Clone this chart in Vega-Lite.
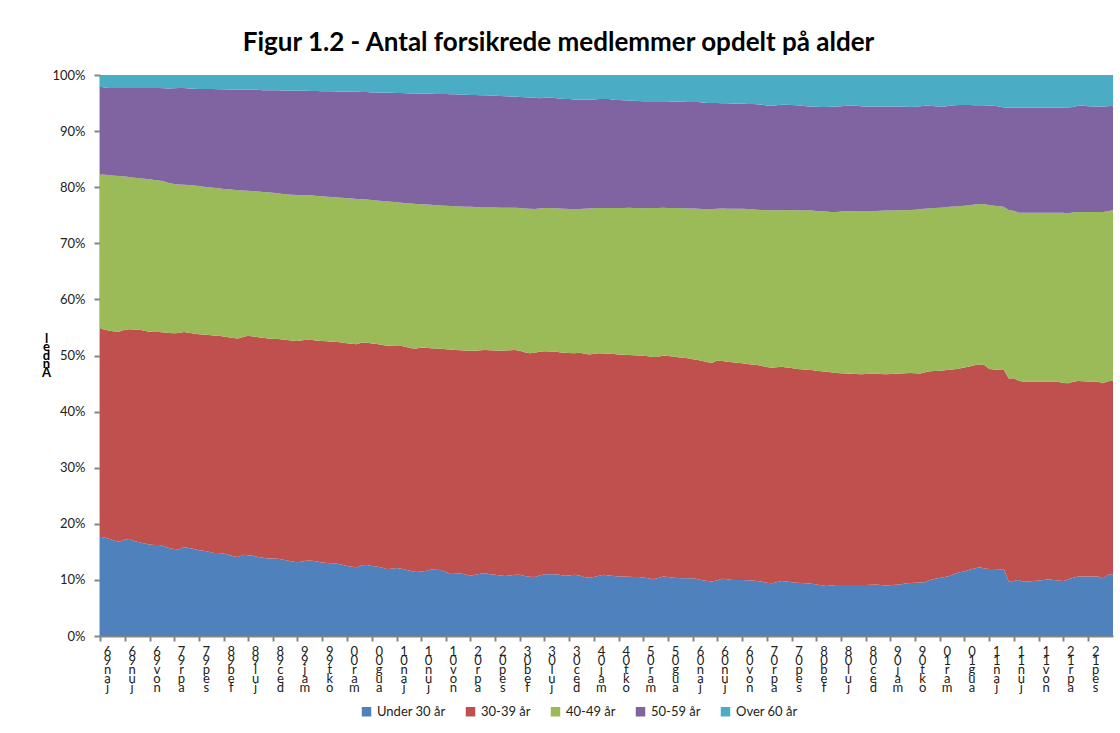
{
  "$schema": "https://vega.github.io/schema/vega-lite/v6.json",
  "width": 1013,
  "height": 561,
  "autosize": {"type": "none"},
  "padding": {"left": 100, "top": 75, "right": 7, "bottom": 97},
  "background": "white",
  "config": {"view": {"stroke": null}, "font": "Lato"},
  "title": {
    "text": "Figur 1.2 - Antal forsikrede medlemmer opdelt på alder",
    "font": "Lato", "fontSize": 26, "fontWeight": "bold", "color": "#000000",
    "anchor": "middle", "dx": -48, "offset": 13
  },
  "data": {"values": [
    {"d":"1996-01","u30":17.7,"a30":37.1,"a40":27.5,"a50":15.6,"o60":2.1},
    {"d":"1996-02","u30":17.5,"a30":37.1,"a40":27.6,"a50":15.55,"o60":2.25},
    {"d":"1996-03","u30":17.3,"a30":37.1,"a40":27.75,"a50":15.55,"o60":2.3},
    {"d":"1996-04","u30":17.0,"a30":37.3,"a40":27.75,"a50":15.65,"o60":2.3},
    {"d":"1996-05","u30":16.8,"a30":37.5,"a40":27.7,"a50":15.7,"o60":2.3},
    {"d":"1996-06","u30":17.2,"a30":37.4,"a40":27.3,"a50":15.8,"o60":2.3},
    {"d":"1996-07","u30":17.3,"a30":37.4,"a40":27.1,"a50":15.9,"o60":2.3},
    {"d":"1996-08","u30":16.9,"a30":37.75,"a40":27.05,"a50":16.0,"o60":2.3},
    {"d":"1996-09","u30":16.7,"a30":37.9,"a40":27.0,"a50":16.1,"o60":2.3},
    {"d":"1996-10","u30":16.5,"a30":37.9,"a40":27.1,"a50":16.2,"o60":2.3},
    {"d":"1996-11","u30":16.3,"a30":37.95,"a40":27.15,"a50":16.3,"o60":2.3},
    {"d":"1996-12","u30":16.2,"a30":38.0,"a40":27.1,"a50":16.4,"o60":2.3},
    {"d":"1997-01","u30":16.2,"a30":38.0,"a40":27.0,"a50":16.5,"o60":2.3},
    {"d":"1997-02","u30":16.0,"a30":38.1,"a40":26.9,"a50":16.65,"o60":2.35},
    {"d":"1997-03","u30":15.7,"a30":38.3,"a40":26.75,"a50":16.85,"o60":2.4},
    {"d":"1997-04","u30":15.5,"a30":38.45,"a40":26.6,"a50":17.1,"o60":2.35},
    {"d":"1997-05","u30":15.4,"a30":38.6,"a40":26.5,"a50":17.2,"o60":2.3},
    {"d":"1997-06","u30":15.8,"a30":38.4,"a40":26.25,"a50":17.25,"o60":2.3},
    {"d":"1997-07","u30":15.7,"a30":38.35,"a40":26.35,"a50":17.2,"o60":2.4},
    {"d":"1997-08","u30":15.5,"a30":38.4,"a40":26.4,"a50":17.25,"o60":2.45},
    {"d":"1997-09","u30":15.3,"a30":38.5,"a40":26.4,"a50":17.3,"o60":2.5},
    {"d":"1997-10","u30":15.2,"a30":38.55,"a40":26.35,"a50":17.4,"o60":2.5},
    {"d":"1997-11","u30":15.0,"a30":38.65,"a40":26.35,"a50":17.5,"o60":2.5},
    {"d":"1997-12","u30":14.8,"a30":38.75,"a40":26.35,"a50":17.6,"o60":2.5},
    {"d":"1998-01","u30":14.8,"a30":38.7,"a40":26.3,"a50":17.65,"o60":2.55},
    {"d":"1998-02","u30":14.7,"a30":38.7,"a40":26.3,"a50":17.75,"o60":2.55},
    {"d":"1998-03","u30":14.5,"a30":38.75,"a40":26.4,"a50":17.75,"o60":2.6},
    {"d":"1998-04","u30":14.2,"a30":38.9,"a40":26.45,"a50":17.85,"o60":2.6},
    {"d":"1998-05","u30":14.1,"a30":38.95,"a40":26.4,"a50":17.95,"o60":2.6},
    {"d":"1998-06","u30":14.5,"a30":38.8,"a40":26.1,"a50":18.0,"o60":2.6},
    {"d":"1998-07","u30":14.4,"a30":39.1,"a40":25.85,"a50":18.0,"o60":2.65},
    {"d":"1998-08","u30":14.3,"a30":39.1,"a40":25.9,"a50":18.05,"o60":2.65},
    {"d":"1998-09","u30":14.1,"a30":39.15,"a40":26.0,"a50":18.1,"o60":2.65},
    {"d":"1998-10","u30":13.95,"a30":39.2,"a40":26.0,"a50":18.15,"o60":2.7},
    {"d":"1998-11","u30":13.8,"a30":39.25,"a40":26.05,"a50":18.2,"o60":2.7},
    {"d":"1998-12","u30":13.8,"a30":39.2,"a40":26.0,"a50":18.3,"o60":2.7},
    {"d":"1999-01","u30":13.75,"a30":39.2,"a40":25.95,"a50":18.4,"o60":2.7},
    {"d":"1999-02","u30":13.6,"a30":39.25,"a40":25.95,"a50":18.45,"o60":2.75},
    {"d":"1999-03","u30":13.45,"a30":39.3,"a40":25.95,"a50":18.55,"o60":2.75},
    {"d":"1999-04","u30":13.3,"a30":39.35,"a40":26.0,"a50":18.55,"o60":2.8},
    {"d":"1999-05","u30":13.15,"a30":39.45,"a40":26.0,"a50":18.6,"o60":2.8},
    {"d":"1999-06","u30":13.3,"a30":39.4,"a40":25.85,"a50":18.65,"o60":2.8},
    {"d":"1999-07","u30":13.45,"a30":39.35,"a40":25.75,"a50":18.65,"o60":2.8},
    {"d":"1999-08","u30":13.4,"a30":39.35,"a40":25.75,"a50":18.65,"o60":2.85},
    {"d":"1999-09","u30":13.3,"a30":39.35,"a40":25.8,"a50":18.7,"o60":2.85},
    {"d":"1999-10","u30":13.1,"a30":39.5,"a40":25.8,"a50":18.7,"o60":2.9},
    {"d":"1999-11","u30":13.0,"a30":39.55,"a40":25.75,"a50":18.8,"o60":2.9},
    {"d":"1999-12","u30":12.95,"a30":39.5,"a40":25.8,"a50":18.85,"o60":2.9},
    {"d":"2000-01","u30":12.9,"a30":39.5,"a40":25.75,"a50":18.9,"o60":2.95},
    {"d":"2000-02","u30":12.7,"a30":39.6,"a40":25.8,"a50":18.95,"o60":2.95},
    {"d":"2000-03","u30":12.5,"a30":39.7,"a40":25.85,"a50":18.95,"o60":3.0},
    {"d":"2000-04","u30":12.35,"a30":39.75,"a40":25.9,"a50":19.0,"o60":3.0},
    {"d":"2000-05","u30":12.25,"a30":39.75,"a40":25.9,"a50":19.1,"o60":3.0},
    {"d":"2000-06","u30":12.6,"a30":39.7,"a40":25.55,"a50":19.1,"o60":3.05},
    {"d":"2000-07","u30":12.65,"a30":39.65,"a40":25.5,"a50":19.15,"o60":3.05},
    {"d":"2000-08","u30":12.5,"a30":39.65,"a40":25.55,"a50":19.2,"o60":3.1},
    {"d":"2000-09","u30":12.4,"a30":39.65,"a40":25.6,"a50":19.25,"o60":3.1},
    {"d":"2000-10","u30":12.2,"a30":39.7,"a40":25.65,"a50":19.35,"o60":3.1},
    {"d":"2000-11","u30":11.95,"a30":39.8,"a40":25.75,"a50":19.35,"o60":3.15},
    {"d":"2000-12","u30":12.0,"a30":39.75,"a40":25.65,"a50":19.45,"o60":3.15},
    {"d":"2001-01","u30":12.1,"a30":39.6,"a40":25.6,"a50":19.5,"o60":3.2},
    {"d":"2001-02","u30":12.0,"a30":39.7,"a40":25.55,"a50":19.55,"o60":3.2},
    {"d":"2001-03","u30":11.8,"a30":39.7,"a40":25.65,"a50":19.6,"o60":3.25},
    {"d":"2001-04","u30":11.6,"a30":39.7,"a40":25.8,"a50":19.6,"o60":3.3},
    {"d":"2001-05","u30":11.4,"a30":39.85,"a40":25.75,"a50":19.7,"o60":3.3},
    {"d":"2001-06","u30":11.5,"a30":39.9,"a40":25.55,"a50":19.75,"o60":3.3},
    {"d":"2001-07","u30":11.6,"a30":39.8,"a40":25.5,"a50":19.75,"o60":3.35},
    {"d":"2001-08","u30":11.85,"a30":39.45,"a40":25.55,"a50":19.8,"o60":3.35},
    {"d":"2001-09","u30":11.8,"a30":39.45,"a40":25.55,"a50":19.8,"o60":3.4},
    {"d":"2001-10","u30":11.75,"a30":39.45,"a40":25.55,"a50":19.85,"o60":3.4},
    {"d":"2001-11","u30":11.4,"a30":39.7,"a40":25.6,"a50":19.9,"o60":3.4},
    {"d":"2001-12","u30":11.05,"a30":40.0,"a40":25.6,"a50":19.9,"o60":3.45},
    {"d":"2002-01","u30":11.1,"a30":39.9,"a40":25.6,"a50":19.95,"o60":3.45},
    {"d":"2002-02","u30":11.15,"a30":39.8,"a40":25.6,"a50":19.95,"o60":3.5},
    {"d":"2002-03","u30":10.95,"a30":39.95,"a40":25.6,"a50":20.0,"o60":3.5},
    {"d":"2002-04","u30":10.75,"a30":40.1,"a40":25.65,"a50":19.95,"o60":3.55},
    {"d":"2002-05","u30":10.9,"a30":39.95,"a40":25.6,"a50":20.0,"o60":3.55},
    {"d":"2002-06","u30":11.1,"a30":39.85,"a40":25.45,"a50":20.0,"o60":3.6},
    {"d":"2002-07","u30":11.2,"a30":39.8,"a40":25.4,"a50":20.0,"o60":3.6},
    {"d":"2002-08","u30":11.0,"a30":39.95,"a40":25.45,"a50":19.95,"o60":3.65},
    {"d":"2002-09","u30":10.9,"a30":40.0,"a40":25.5,"a50":19.9,"o60":3.7},
    {"d":"2002-10","u30":10.8,"a30":40.05,"a40":25.5,"a50":19.9,"o60":3.75},
    {"d":"2002-11","u30":10.7,"a30":40.2,"a40":25.45,"a50":19.85,"o60":3.8},
    {"d":"2002-12","u30":10.8,"a30":40.15,"a40":25.4,"a50":19.8,"o60":3.85},
    {"d":"2003-01","u30":10.9,"a30":40.1,"a40":25.35,"a50":19.8,"o60":3.85},
    {"d":"2003-02","u30":10.9,"a30":39.95,"a40":25.45,"a50":19.8,"o60":3.9},
    {"d":"2003-03","u30":10.7,"a30":39.9,"a40":25.6,"a50":19.85,"o60":3.95},
    {"d":"2003-04","u30":10.55,"a30":39.85,"a40":25.75,"a50":19.85,"o60":4.0},
    {"d":"2003-05","u30":10.5,"a30":40.0,"a40":25.6,"a50":19.85,"o60":4.05},
    {"d":"2003-06","u30":10.8,"a30":39.85,"a40":25.55,"a50":19.65,"o60":4.15},
    {"d":"2003-07","u30":11.0,"a30":39.75,"a40":25.55,"a50":19.65,"o60":4.05},
    {"d":"2003-08","u30":11.0,"a30":39.7,"a40":25.6,"a50":19.7,"o60":4.0},
    {"d":"2003-09","u30":11.0,"a30":39.7,"a40":25.55,"a50":19.65,"o60":4.1},
    {"d":"2003-10","u30":10.9,"a30":39.7,"a40":25.6,"a50":19.6,"o60":4.2},
    {"d":"2003-11","u30":10.75,"a30":39.75,"a40":25.65,"a50":19.55,"o60":4.3},
    {"d":"2003-12","u30":10.8,"a30":39.65,"a40":25.65,"a50":19.6,"o60":4.3},
    {"d":"2004-01","u30":10.9,"a30":39.5,"a40":25.7,"a50":19.55,"o60":4.35},
    {"d":"2004-02","u30":10.8,"a30":39.7,"a40":25.6,"a50":19.55,"o60":4.35},
    {"d":"2004-03","u30":10.5,"a30":39.85,"a40":25.8,"a50":19.45,"o60":4.4},
    {"d":"2004-04","u30":10.4,"a30":39.8,"a40":26.0,"a50":19.4,"o60":4.4},
    {"d":"2004-05","u30":10.5,"a30":39.8,"a40":25.95,"a50":19.4,"o60":4.35},
    {"d":"2004-06","u30":10.75,"a30":39.65,"a40":25.9,"a50":19.4,"o60":4.3},
    {"d":"2004-07","u30":10.9,"a30":39.45,"a40":25.95,"a50":19.4,"o60":4.3},
    {"d":"2004-08","u30":10.8,"a30":39.5,"a40":26.0,"a50":19.4,"o60":4.3},
    {"d":"2004-09","u30":10.7,"a30":39.55,"a40":26.05,"a50":19.3,"o60":4.4},
    {"d":"2004-10","u30":10.6,"a30":39.6,"a40":26.1,"a50":19.25,"o60":4.45},
    {"d":"2004-11","u30":10.6,"a30":39.55,"a40":26.15,"a50":19.2,"o60":4.5},
    {"d":"2004-12","u30":10.55,"a30":39.55,"a40":26.25,"a50":19.1,"o60":4.55},
    {"d":"2005-01","u30":10.5,"a30":39.55,"a40":26.25,"a50":19.1,"o60":4.6},
    {"d":"2005-02","u30":10.5,"a30":39.5,"a40":26.3,"a50":19.05,"o60":4.65},
    {"d":"2005-03","u30":10.45,"a30":39.5,"a40":26.3,"a50":19.05,"o60":4.7},
    {"d":"2005-04","u30":10.3,"a30":39.55,"a40":26.45,"a50":19.0,"o60":4.7},
    {"d":"2005-05","u30":10.1,"a30":39.65,"a40":26.55,"a50":19.0,"o60":4.7},
    {"d":"2005-06","u30":10.35,"a30":39.4,"a40":26.55,"a50":19.0,"o60":4.7},
    {"d":"2005-07","u30":10.6,"a30":39.4,"a40":26.35,"a50":18.95,"o60":4.7},
    {"d":"2005-08","u30":10.5,"a30":39.4,"a40":26.4,"a50":19.0,"o60":4.7},
    {"d":"2005-09","u30":10.4,"a30":39.4,"a40":26.5,"a50":18.95,"o60":4.75},
    {"d":"2005-10","u30":10.35,"a30":39.35,"a40":26.6,"a50":18.95,"o60":4.75},
    {"d":"2005-11","u30":10.3,"a30":39.3,"a40":26.65,"a50":19.0,"o60":4.75},
    {"d":"2005-12","u30":10.3,"a30":39.2,"a40":26.7,"a50":19.0,"o60":4.8},
    {"d":"2006-01","u30":10.3,"a30":39.05,"a40":26.85,"a50":19.0,"o60":4.8},
    {"d":"2006-02","u30":10.1,"a30":39.1,"a40":26.95,"a50":19.05,"o60":4.8},
    {"d":"2006-03","u30":9.95,"a30":39.05,"a40":27.1,"a50":19.0,"o60":4.9},
    {"d":"2006-04","u30":9.8,"a30":39.0,"a40":27.3,"a50":18.9,"o60":5.0},
    {"d":"2006-05","u30":9.7,"a30":39.0,"a40":27.4,"a50":18.9,"o60":5.0},
    {"d":"2006-06","u30":9.95,"a30":39.15,"a40":27.05,"a50":18.85,"o60":5.0},
    {"d":"2006-07","u30":10.2,"a30":38.8,"a40":27.2,"a50":18.75,"o60":5.05},
    {"d":"2006-08","u30":10.1,"a30":38.8,"a40":27.25,"a50":18.8,"o60":5.05},
    {"d":"2006-09","u30":10.0,"a30":38.8,"a40":27.35,"a50":18.75,"o60":5.1},
    {"d":"2006-10","u30":10.0,"a30":38.7,"a40":27.45,"a50":18.75,"o60":5.1},
    {"d":"2006-11","u30":10.0,"a30":38.6,"a40":27.55,"a50":18.75,"o60":5.1},
    {"d":"2006-12","u30":9.95,"a30":38.55,"a40":27.6,"a50":18.75,"o60":5.15},
    {"d":"2007-01","u30":9.9,"a30":38.5,"a40":27.65,"a50":18.8,"o60":5.15},
    {"d":"2007-02","u30":9.8,"a30":38.5,"a40":27.7,"a50":18.8,"o60":5.2},
    {"d":"2007-03","u30":9.65,"a30":38.5,"a40":27.8,"a50":18.75,"o60":5.3},
    {"d":"2007-04","u30":9.5,"a30":38.45,"a40":27.95,"a50":18.65,"o60":5.45},
    {"d":"2007-05","u30":9.4,"a30":38.4,"a40":28.1,"a50":18.6,"o60":5.5},
    {"d":"2007-06","u30":9.6,"a30":38.3,"a40":28.0,"a50":18.7,"o60":5.4},
    {"d":"2007-07","u30":9.8,"a30":38.2,"a40":27.9,"a50":18.8,"o60":5.3},
    {"d":"2007-08","u30":9.7,"a30":38.15,"a40":28.1,"a50":18.75,"o60":5.3},
    {"d":"2007-09","u30":9.6,"a30":38.15,"a40":28.15,"a50":18.75,"o60":5.35},
    {"d":"2007-10","u30":9.5,"a30":38.1,"a40":28.3,"a50":18.7,"o60":5.4},
    {"d":"2007-11","u30":9.45,"a30":38.1,"a40":28.3,"a50":18.65,"o60":5.5},
    {"d":"2007-12","u30":9.4,"a30":38.05,"a40":28.45,"a50":18.55,"o60":5.55},
    {"d":"2008-01","u30":9.3,"a30":38.1,"a40":28.45,"a50":18.55,"o60":5.6},
    {"d":"2008-02","u30":9.2,"a30":38.1,"a40":28.45,"a50":18.6,"o60":5.65},
    {"d":"2008-03","u30":9.05,"a30":38.15,"a40":28.5,"a50":18.6,"o60":5.7},
    {"d":"2008-04","u30":8.9,"a30":38.2,"a40":28.55,"a50":18.65,"o60":5.7},
    {"d":"2008-05","u30":9.0,"a30":38.0,"a40":28.6,"a50":18.75,"o60":5.65},
    {"d":"2008-06","u30":9.1,"a30":37.8,"a40":28.7,"a50":18.8,"o60":5.6},
    {"d":"2008-07","u30":9.1,"a30":37.75,"a40":28.8,"a50":18.8,"o60":5.55},
    {"d":"2008-08","u30":9.1,"a30":37.7,"a40":28.9,"a50":18.8,"o60":5.5},
    {"d":"2008-09","u30":9.1,"a30":37.65,"a40":29.0,"a50":18.75,"o60":5.5},
    {"d":"2008-10","u30":9.1,"a30":37.6,"a40":29.05,"a50":18.75,"o60":5.5},
    {"d":"2008-11","u30":9.1,"a30":37.55,"a40":29.1,"a50":18.7,"o60":5.55},
    {"d":"2008-12","u30":9.1,"a30":37.6,"a40":29.05,"a50":18.65,"o60":5.6},
    {"d":"2009-01","u30":9.15,"a30":37.6,"a40":29.0,"a50":18.65,"o60":5.6},
    {"d":"2009-02","u30":9.2,"a30":37.6,"a40":28.95,"a50":18.65,"o60":5.6},
    {"d":"2009-03","u30":9.1,"a30":37.6,"a40":29.1,"a50":18.6,"o60":5.6},
    {"d":"2009-04","u30":9.0,"a30":37.65,"a40":29.2,"a50":18.55,"o60":5.6},
    {"d":"2009-05","u30":9.05,"a30":37.65,"a40":29.15,"a50":18.55,"o60":5.6},
    {"d":"2009-06","u30":9.15,"a30":37.6,"a40":29.15,"a50":18.5,"o60":5.6},
    {"d":"2009-07","u30":9.2,"a30":37.6,"a40":29.1,"a50":18.5,"o60":5.6},
    {"d":"2009-08","u30":9.35,"a30":37.5,"a40":29.05,"a50":18.45,"o60":5.65},
    {"d":"2009-09","u30":9.45,"a30":37.45,"a40":29.05,"a50":18.35,"o60":5.7},
    {"d":"2009-10","u30":9.5,"a30":37.35,"a40":29.15,"a50":18.35,"o60":5.65},
    {"d":"2009-11","u30":9.55,"a30":37.25,"a40":29.3,"a50":18.35,"o60":5.55},
    {"d":"2009-12","u30":9.6,"a30":37.4,"a40":29.15,"a50":18.35,"o60":5.5},
    {"d":"2010-01","u30":10.0,"a30":37.2,"a40":29.05,"a50":18.25,"o60":5.5},
    {"d":"2010-02","u30":10.2,"a30":37.05,"a40":29.05,"a50":18.15,"o60":5.55},
    {"d":"2010-03","u30":10.35,"a30":36.95,"a40":29.05,"a50":18.05,"o60":5.6},
    {"d":"2010-04","u30":10.5,"a30":36.85,"a40":29.05,"a50":18.0,"o60":5.6},
    {"d":"2010-05","u30":10.7,"a30":36.75,"a40":29.05,"a50":18.0,"o60":5.5},
    {"d":"2010-06","u30":11.1,"a30":36.45,"a40":29.0,"a50":18.05,"o60":5.4},
    {"d":"2010-07","u30":11.35,"a30":36.35,"a40":28.9,"a50":18.05,"o60":5.35},
    {"d":"2010-08","u30":11.5,"a30":36.35,"a40":28.85,"a50":17.95,"o60":5.35},
    {"d":"2010-09","u30":11.8,"a30":36.25,"a40":28.75,"a50":17.85,"o60":5.35},
    {"d":"2010-10","u30":12.05,"a30":36.2,"a40":28.65,"a50":17.7,"o60":5.4},
    {"d":"2010-11","u30":12.25,"a30":36.15,"a40":28.6,"a50":17.6,"o60":5.4},
    {"d":"2010-12","u30":12.05,"a30":36.25,"a40":28.7,"a50":17.6,"o60":5.4},
    {"d":"2011-01","u30":11.95,"a30":35.65,"a40":29.2,"a50":17.75,"o60":5.45},
    {"d":"2011-02","u30":11.95,"a30":35.55,"a40":29.2,"a50":17.8,"o60":5.5},
    {"d":"2011-03","u30":11.9,"a30":35.55,"a40":29.15,"a50":17.8,"o60":5.6},
    {"d":"2011-04","u30":11.9,"a30":35.5,"a40":29.1,"a50":17.7,"o60":5.8},
    {"d":"2011-05","u30":9.7,"a30":36.2,"a40":30.0,"a50":18.3,"o60":5.8},
    {"d":"2011-06","u30":9.8,"a30":36.15,"a40":29.85,"a50":18.4,"o60":5.8},
    {"d":"2011-07","u30":10.0,"a30":35.5,"a40":29.95,"a50":18.75,"o60":5.8},
    {"d":"2011-08","u30":9.65,"a30":35.65,"a40":30.15,"a50":18.75,"o60":5.8},
    {"d":"2011-09","u30":9.7,"a30":35.6,"a40":30.15,"a50":18.75,"o60":5.8},
    {"d":"2011-10","u30":9.8,"a30":35.5,"a40":30.15,"a50":18.75,"o60":5.8},
    {"d":"2011-11","u30":9.9,"a30":35.4,"a40":30.15,"a50":18.75,"o60":5.8},
    {"d":"2011-12","u30":10.0,"a30":35.3,"a40":30.15,"a50":18.75,"o60":5.8},
    {"d":"2012-01","u30":10.1,"a30":35.2,"a40":30.15,"a50":18.75,"o60":5.8},
    {"d":"2012-02","u30":10.0,"a30":35.3,"a40":30.15,"a50":18.75,"o60":5.8},
    {"d":"2012-03","u30":9.9,"a30":35.4,"a40":30.15,"a50":18.75,"o60":5.8},
    {"d":"2012-04","u30":9.8,"a30":35.3,"a40":30.35,"a50":18.75,"o60":5.8},
    {"d":"2012-05","u30":10.1,"a30":34.95,"a40":30.25,"a50":18.9,"o60":5.8},
    {"d":"2012-06","u30":10.4,"a30":34.9,"a40":30.25,"a50":18.75,"o60":5.7},
    {"d":"2012-07","u30":10.6,"a30":34.85,"a40":30.15,"a50":18.9,"o60":5.5},
    {"d":"2012-08","u30":10.6,"a30":34.8,"a40":30.2,"a50":18.9,"o60":5.5},
    {"d":"2012-09","u30":10.6,"a30":34.75,"a40":30.25,"a50":18.85,"o60":5.55},
    {"d":"2012-10","u30":10.6,"a30":34.75,"a40":30.25,"a50":18.8,"o60":5.6},
    {"d":"2012-11","u30":10.6,"a30":34.7,"a40":30.3,"a50":18.8,"o60":5.6},
    {"d":"2012-12","u30":10.3,"a30":34.75,"a40":30.55,"a50":18.8,"o60":5.6},
    {"d":"2013-01","u30":10.9,"a30":34.5,"a40":30.3,"a50":18.75,"o60":5.55},
    {"d":"2013-02","u30":11.0,"a30":34.5,"a40":30.4,"a50":18.6,"o60":5.5}
  ]},
  "transform": [
    {"fold": ["u30", "a30", "a40", "a50", "o60"], "as": ["k", "andel"]},
    {"lookup": "k", "from": {"data": {"values": [
      {"k": "u30", "gruppe": "Under 30 år", "rang": 1},
      {"k": "a30", "gruppe": "30-39 år", "rang": 2},
      {"k": "a40", "gruppe": "40-49 år", "rang": 3},
      {"k": "a50", "gruppe": "50-59 år", "rang": 4},
      {"k": "o60", "gruppe": "Over 60 år", "rang": 5}
    ]}, "key": "k", "fields": ["gruppe", "rang"]}}
  ],
  "mark": {"type": "area", "interpolate": "linear"},
  "encoding": {
    "x": {
      "field": "d", "type": "temporal",
      "scale": {"type": "utc", "nice": false},
      "axis": {
        "title": null,
        "values": [
          {"year":1996,"month":1,"utc":true},{"year":1996,"month":6,"utc":true},{"year":1996,"month":11,"utc":true},
          {"year":1997,"month":4,"utc":true},{"year":1997,"month":9,"utc":true},
          {"year":1998,"month":2,"utc":true},{"year":1998,"month":7,"utc":true},{"year":1998,"month":12,"utc":true},
          {"year":1999,"month":5,"utc":true},{"year":1999,"month":10,"utc":true},
          {"year":2000,"month":3,"utc":true},{"year":2000,"month":8,"utc":true},
          {"year":2001,"month":1,"utc":true},{"year":2001,"month":6,"utc":true},{"year":2001,"month":11,"utc":true},
          {"year":2002,"month":4,"utc":true},{"year":2002,"month":9,"utc":true},
          {"year":2003,"month":2,"utc":true},{"year":2003,"month":7,"utc":true},{"year":2003,"month":12,"utc":true},
          {"year":2004,"month":5,"utc":true},{"year":2004,"month":10,"utc":true},
          {"year":2005,"month":3,"utc":true},{"year":2005,"month":8,"utc":true},
          {"year":2006,"month":1,"utc":true},{"year":2006,"month":6,"utc":true},{"year":2006,"month":11,"utc":true},
          {"year":2007,"month":4,"utc":true},{"year":2007,"month":9,"utc":true},
          {"year":2008,"month":2,"utc":true},{"year":2008,"month":7,"utc":true},{"year":2008,"month":12,"utc":true},
          {"year":2009,"month":5,"utc":true},{"year":2009,"month":10,"utc":true},
          {"year":2010,"month":3,"utc":true},{"year":2010,"month":8,"utc":true},
          {"year":2011,"month":1,"utc":true},{"year":2011,"month":6,"utc":true},{"year":2011,"month":11,"utc":true},
          {"year":2012,"month":4,"utc":true},{"year":2012,"month":9,"utc":true}
        ],
        "labelExpr": "[substring(utcFormat(datum.value,'%y'),1,2), substring(utcFormat(datum.value,'%y'),0,1), ['n','b','r','r','j','n','l','g','p','t','v','c'][utcmonth(datum.value)], ['a','e','a','p','a','u','u','u','e','k','o','e'][utcmonth(datum.value)], ['j','f','m','a','m','j','j','a','s','o','n','d'][utcmonth(datum.value)]]",
        "labelFont": "Lato", "labelFontSize": 13, "labelColor": "#222222",
        "labelLineHeight": 9, "labelAngle": 0, "labelAlign": "center", "labelBaseline": "top",
        "labelOffset": 7, "labelPadding": 4, "labelFlush": false, "labelOverlap": false, "labelBound": false,
        "domainColor": "#868686", "domainWidth": 2, "tickColor": "#868686", "tickWidth": 2, "tickSize": 5,
        "grid": false
      }
    },
    "y": {
      "field": "andel", "type": "quantitative", "stack": "normalize",
      "scale": {"domain": [0, 1]},
      "axis": {
        "title": ["l", "e", "d", "n", "A"],
        "titleAngle": 0, "titleFont": "Lato", "titleFontSize": 13, "titleFontWeight": "bold",
        "titleColor": "#000000", "titleLineHeight": 8.5, "titleAlign": "center", "titleBaseline": "top",
        "titleX": -54, "titleY": 257,
        "values": [0, 0.1, 0.2, 0.3, 0.4, 0.5, 0.6, 0.7, 0.8, 0.9, 1],
        "format": ".0%",
        "labelFont": "Lato", "labelFontSize": 13, "labelColor": "#222222", "labelPadding": 9,
        "domainColor": "#868686", "domainWidth": 2, "tickColor": "#868686", "tickWidth": 2, "tickSize": 6,
        "grid": false
      }
    },
    "color": {
      "field": "gruppe", "type": "nominal",
      "scale": {
        "domain": ["Under 30 år", "30-39 år", "40-49 år", "50-59 år", "Over 60 år"],
        "range": ["#4F81BD", "#C0504D", "#9BBB59", "#8064A2", "#4BACC6"]
      },
      "legend": {
        "title": null, "orient": "none", "direction": "horizontal",
        "legendX": 260, "legendY": 630,
        "symbolType": "square", "symbolSize": 90, "symbolStrokeWidth": 0, "symbolOpacity": 1,
        "labelFont": "Lato", "labelFontSize": 13, "labelColor": "#222222", "labelOffset": 4,
        "columnPadding": 18
      }
    },
    "order": {"field": "rang", "type": "quantitative", "sort": "ascending"}
  }
}
